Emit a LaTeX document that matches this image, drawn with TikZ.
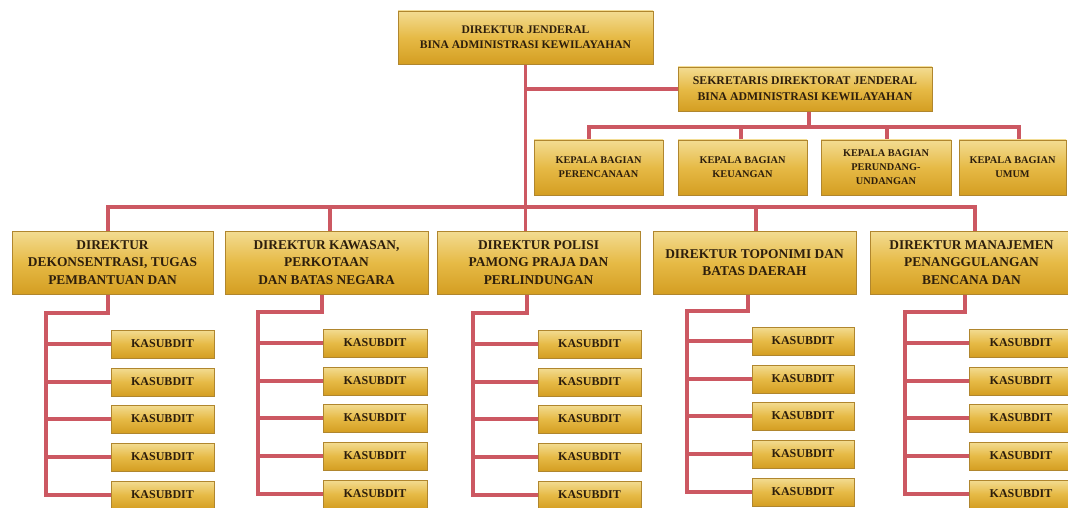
\documentclass[tikz,border=0pt]{standalone}
\usepackage{fontspec}
\setmainfont{Liberation Serif}
\usetikzlibrary{shadows,calc}
\definecolor{lineC}{RGB}{204,88,98}
\definecolor{gTop}{RGB}{243,220,146}
\definecolor{gMid}{RGB}{230,186,70}
\definecolor{gBot}{RGB}{212,158,34}
\definecolor{boxB}{RGB}{176,134,46}
\definecolor{txt}{RGB}{45,30,12}
\pgfdeclarelayer{bg}
\pgfsetlayers{bg,main}
\tikzset{
  orgbox/.style={draw=boxB, line width=0.6pt, top color=gTop, bottom color=gBot, middle color=gMid,
    text=txt, align=center, inner sep=0pt,
    drop shadow={shadow xshift=1.2pt, shadow yshift=-1.2pt, opacity=0.35, fill=black!60}},
  djbox/.style={orgbox, minimum width=255pt, minimum height=53pt, font=\fontsize{11.6}{15}\selectfont\bfseries},
  sekbox/.style={orgbox, minimum width=254pt, minimum height=44pt, font=\fontsize{11.8}{16}\selectfont\bfseries},
  kabbox/.style={orgbox, minimum height=55pt, font=\fontsize{10.3}{14}\selectfont\bfseries},
  dirbox/.style={orgbox, minimum height=63pt, font=\fontsize{13.4}{17.5}\selectfont\bfseries},
  subbox/.style={orgbox, minimum height=28pt, font=\fontsize{12}{14}\selectfont\bfseries},
  conn/.style={draw=lineC, line width=3.2pt, line cap=rect}
}
\begin{document}
\begin{tikzpicture}[x=1pt,y=-1pt]
\useasboundingbox (0,0) rectangle (1068,508);
\clip (0,0) rectangle (1068,508);
\begin{pgfonlayer}{bg}
\fill[white] (0,0) rectangle (1068,508);
\end{pgfonlayer}

% top
\node[djbox] (dj) at (525.5,37.5) {DIREKTUR JENDERAL\\BINA ADMINISTRASI KEWILAYAHAN};
\node[sekbox] (sek) at (805,89) {SEKRETARIS DIREKTORAT JENDERAL\\BINA ADMINISTRASI KEWILAYAHAN};

% kepala bagian
\node[kabbox, minimum width=129pt] (kp1) at (598.5,167.5) {KEPALA BAGIAN\\PERENCANAAN};
\node[kabbox, minimum width=129pt] (kp2) at (742.5,167.5) {KEPALA BAGIAN\\KEUANGAN};
\node[kabbox, minimum width=130pt] (kp3) at (886,167.5) {KEPALA BAGIAN\\PERUNDANG-\\UNDANGAN};
\node[kabbox, minimum width=107pt] (kp4) at (1012.5,167.5) {KEPALA BAGIAN\\UMUM};

% directors
\node[dirbox, minimum width=201pt] (d1) at (112.5,262.5) {DIREKTUR\\DEKONSENTRASI, TUGAS\\PEMBANTUAN DAN};
\node[dirbox, minimum width=203pt] (d2) at (326.5,262.5) {DIREKTUR KAWASAN,\\PERKOTAAN\\DAN BATAS NEGARA};
\node[dirbox, minimum width=203pt] (d3) at (538.5,262.5) {DIREKTUR POLISI\\PAMONG PRAJA DAN\\PERLINDUNGAN};
\node[dirbox, minimum width=203pt] (d4) at (754.5,262.5) {DIREKTUR TOPONIMI DAN\\BATAS DAERAH};
\node[dirbox, minimum width=203pt] (d5) at (971.5,262.5) {DIREKTUR MANAJEMEN\\PENANGGULANGAN\\BENCANA DAN};

% kasubdit
\foreach \g/\cx/\w/\off in {1/162.5/103/0, 2/375/104/-1, 3/589.5/103/0, 4/803/102/-3, 5/1021/103/-1}{
  \foreach \i/\cy in {1/344, 2/382, 3/419, 4/457, 5/495}{
    \node[subbox, minimum width=\w pt] (k\g-\i) at (\cx,\cy+\off) {KASUBDIT};
  }
}

% connectors
\coordinate (sekst) at (809,111);
\coordinate (kb1) at (589,127);
\coordinate (kb2) at (741,127);
\coordinate (kb3) at (887,127);
\coordinate (kb4) at (1019,127);
\coordinate (db1) at (108,207);
\coordinate (db2) at (330,207);
\coordinate (db4) at (756,207);
\coordinate (db5) at (975,207);
\begin{pgfonlayer}{bg}
  \draw[conn] (dj.south) -- (dj.south |- d3.north);
  \draw[conn] (dj.south |- sek.west) -- (sek.west);
  \draw[conn] (sekst) -- (sekst |- kb1);
  \draw[conn] (kb1) -- (kb4);
  \foreach \k in {1,2,3,4}{
    \draw[conn] (kb\k) -- (kb\k |- kp\k.north);
  }
  \draw[conn] (db1) -- (db5);
  \foreach \k in {1,2,4,5}{
    \draw[conn] (db\k) -- (db\k |- d\k.north);
  }
  \foreach \g/\sp/\st/\ty in {1/46/108/313, 2/258/322/312, 3/473/527/313, 4/687/748/311, 5/905/965/312}{
    \coordinate (st\g) at (\st,\ty);
    \coordinate (sp\g) at (\sp,\ty);
    \draw[conn] (st\g |- d\g.south) -- (st\g) -- (sp\g) |- (k\g-5.west);
    \foreach \i in {1,2,3,4}{
      \draw[conn] (sp\g |- k\g-\i.west) -- (k\g-\i.west);
    }
  }
\end{pgfonlayer}
\end{tikzpicture}
\end{document}
